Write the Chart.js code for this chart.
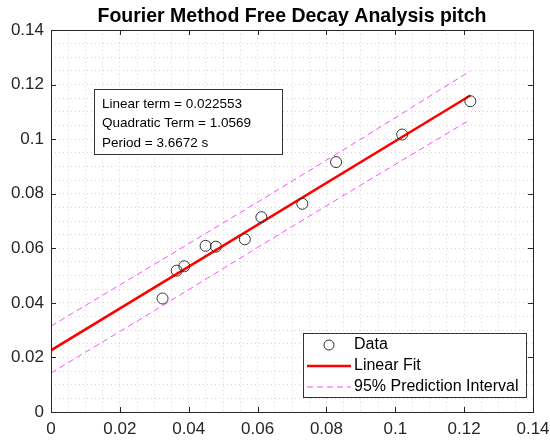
<!DOCTYPE html>
<html>
<head>
<meta charset="utf-8">
<script src="https://cdn.jsdelivr.net/npm/chart.js@4"></script>
<style>
  body { margin: 0; background: #fff; }
  #wrap { width: 550px; height: 444px; }
</style>
</head>
<body>
<div id="wrap"><canvas id="chart"></canvas></div>
<script>
// measured points
const dataX = [0.0324, 0.0365, 0.0387, 0.0449, 0.0479, 0.0563, 0.0611, 0.0730, 0.0828, 0.1020, 0.1218];
const dataY = [0.0416, 0.0518, 0.0534, 0.0609, 0.0606, 0.0633, 0.0714, 0.0763, 0.0916, 0.1017, 0.1139];

// fit line and prediction interval, read at a few x positions
const fitX = [0, 0.1218];
const fitY = [0.0226, 0.1160];
const bandX = [0, 0.03, 0.06, 0.09, 0.1218];
const upperY = [0.0315, 0.0541, 0.0769, 0.1000, 0.1250];
const lowerY = [0.0143, 0.0371, 0.0603, 0.0832, 0.1072];

const tickLabels = ['0', '0.02', '0.04', '0.06', '0.08', '0.1', '0.12', '0.14'];
const infoLines = ['Linear term = 0.022553', 'Quadratic Term = 1.0569', 'Period = 3.6672 s'];
const legendLabels = ['Data', 'Linear Fit', '95% Prediction Interval'];

const FONT = "'Liberation Sans', Arial, Helvetica, sans-serif";
const AXIS = '#262626';

function pairs(xs, ys) {
    return xs.map((x, i) => ({ x: x, y: ys[i] }));
}

function majorLabel(v) {
    const k = Math.round(v / 0.02);
    if (Math.abs(v / 0.02 - k) > 1e-6) return '';
    return tickLabels[k];
}

const extras = {
    id: 'extras',
    afterDatasetsDraw(chart) {
        const ctx = chart.ctx;
        const a = chart.chartArea;
        const xs = chart.scales.x, ys = chart.scales.y;
        ctx.save();

        // axes box + inward ticks
        ctx.strokeStyle = AXIS;
        ctx.lineWidth = 1;
        ctx.strokeRect(Math.round(a.left) + 0.5, Math.round(a.top) + 0.5,
            Math.round(a.right - a.left), Math.round(a.bottom - a.top));
        ctx.beginPath();
        for (let k = 0; k < tickLabels.length; k++) {
            const v = k * 0.02;
            const px = Math.round(xs.getPixelForValue(v)) + 0.5;
            const py = Math.round(ys.getPixelForValue(v)) + 0.5;
            ctx.moveTo(px, a.bottom); ctx.lineTo(px, a.bottom - 5);
            ctx.moveTo(px, a.top); ctx.lineTo(px, a.top + 5);
            ctx.moveTo(a.left, py); ctx.lineTo(a.left + 5, py);
            ctx.moveTo(a.right, py); ctx.lineTo(a.right - 5, py);
        }
        ctx.stroke();

        // title
        ctx.fillStyle = '#000';
        ctx.font = 'bold 19.5px ' + FONT;
        ctx.textAlign = 'center';
        ctx.textBaseline = 'middle';
        ctx.fillText('Fourier Method Free Decay Analysis pitch', (a.left + a.right) / 2, 17);

        // info text box
        ctx.fillStyle = '#fff';
        ctx.fillRect(94, 89, 188, 65);
        ctx.strokeStyle = '#333';
        ctx.strokeRect(94.5, 89.5, 188, 65);
        ctx.fillStyle = '#000';
        ctx.font = '13.5px ' + FONT;
        ctx.textAlign = 'left';
        infoLines.forEach((t, i) => ctx.fillText(t, 102, 104 + i * 19.5));

        // legend
        ctx.fillStyle = '#fff';
        ctx.fillRect(303, 333, 223, 64);
        ctx.strokeStyle = '#333';
        ctx.strokeRect(303.5, 333.5, 223, 64);
        const rows = [345, 366, 387];
        ctx.font = '16px ' + FONT;
        ctx.fillStyle = '#000';
        legendLabels.forEach((t, i) => ctx.fillText(t, 354, rows[i]));
        ctx.beginPath();
        ctx.strokeStyle = '#333';
        ctx.arc(329, rows[0], 5, 0, Math.PI * 2);
        ctx.stroke();
        ctx.beginPath();
        ctx.strokeStyle = '#ff0000';
        ctx.lineWidth = 2.5;
        ctx.moveTo(307, rows[1]); ctx.lineTo(351, rows[1]);
        ctx.stroke();
        ctx.beginPath();
        ctx.strokeStyle = '#ff4dff';
        ctx.lineWidth = 1;
        ctx.setLineDash([6, 4]);
        ctx.moveTo(307, rows[2]); ctx.lineTo(351, rows[2]);
        ctx.stroke();
        ctx.restore();
    }
};

function axisOpts(isY) {
    return {
        type: 'linear',
        min: 0,
        max: 0.14,
        afterFit: function(scale) {
            // fixed axis sizes, no extra room for overhanging labels
            if (isY) {
                scale.width = 51;
                scale.paddingTop = 0;
                scale.paddingBottom = 0;
            } else {
                scale.height = 32;
                scale.paddingLeft = 0;
                scale.paddingRight = 0;
            }
        },
        grid: { color: '#d6d6d6', lineWidth: 1, drawTicks: false },
        border: { display: false, dash: [1, 3] },
        ticks: {
            stepSize: 0.005,
            autoSkip: false,
            maxRotation: 0,
            padding: 7,
            color: AXIS,
            font: { family: FONT, size: 17 },
            callback: function(value) { return majorLabel(value); }
        }
    };
}

new Chart(document.getElementById('chart'), {
    type: 'scatter',
    data: {
        datasets: [
            {
                label: legendLabels[0],
                data: pairs(dataX, dataY),
                pointStyle: 'circle',
                pointRadius: 5.5,
                pointBorderWidth: 1,
                pointBorderColor: '#333',
                pointBackgroundColor: 'rgba(0,0,0,0)',
                showLine: false
            },
            {
                label: legendLabels[1],
                data: pairs(fitX, fitY),
                showLine: true,
                borderColor: '#ff0000',
                borderWidth: 2.5,
                pointRadius: 0
            },
            {
                label: legendLabels[2],
                data: pairs(bandX, upperY),
                showLine: true,
                borderColor: '#ff4dff',
                borderWidth: 1,
                borderDash: [6, 4],
                pointRadius: 0
            },
            {
                label: '',
                data: pairs(bandX, lowerY),
                showLine: true,
                borderColor: '#ff4dff',
                borderWidth: 1,
                borderDash: [6, 4],
                pointRadius: 0
            }
        ]
    },
    options: {
        responsive: true,
        maintainAspectRatio: false,
        animation: false,
        layout: { padding: { top: 30, right: 17, left: 0, bottom: 0 } },
        plugins: {
            legend: { display: false },
            tooltip: { enabled: false }
        },
        scales: {
            x: axisOpts(false),
            y: axisOpts(true)
        }
    },
    plugins: [extras]
});
</script>
</body>
</html>
